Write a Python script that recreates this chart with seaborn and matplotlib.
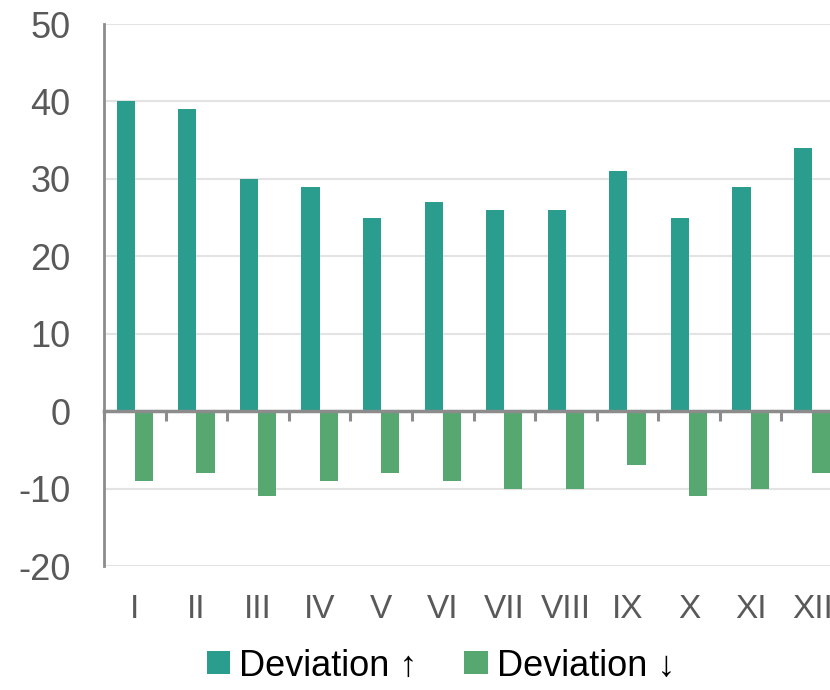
import matplotlib
matplotlib.use("Agg")
import matplotlib.pyplot as plt
import seaborn as sns
import pandas as pd

# Monthly deviations (upward and downward)
months = ["I", "II", "III", "IV", "V", "VI", "VII", "VIII", "IX", "X", "XI", "XII"]
dev_up = [40, 39, 30, 29, 25, 27, 26, 26, 31, 25, 29, 34]
dev_down = [-9, -8, -11, -9, -8, -9, -10, -10, -7, -11, -10, -8]
series_names = ["Deviation \u2191", "Deviation \u2193"]
y_ticks = [-20, -10, 0, 10, 20, 30, 40, 50]

df = pd.DataFrame({
    "month": months * 2,
    "value": dev_up + dev_down,
    "series": [series_names[0]] * len(months) + [series_names[1]] * len(months),
})

sns.set_theme(style="white")
plt.rcParams["font.family"] = ["Liberation Sans", "DejaVu Sans"]
plt.rcParams["axes.unicode_minus"] = False

axis_grey = "#8C8C8C"
grid_grey = "#E3E3E3"
label_grey = "#595959"
palette = {series_names[0]: "#2A9D8E", series_names[1]: "#56A870"}

fig = plt.figure(figsize=(8.3, 6.9), dpi=100)
ax = fig.add_axes([104 / 830, 124 / 690, 739 / 830, 542 / 690])

sns.barplot(data=df, x="month", y="value", hue="series", order=months,
            hue_order=series_names, palette=palette, width=0.59, gap=0,
            saturation=1, linewidth=0, ax=ax, legend=True, zorder=2)

ymin, ymax = -20, 50
ax.set_ylim(ymin, ymax)
ax.set_xlim(-0.5, len(months) - 0.5)
ax.set_yticks(y_ticks)
ax.set_xlabel("")
ax.set_ylabel("")

# Horizontal gridlines
ax.yaxis.grid(True, color=grid_grey, linewidth=1.5, zorder=0)
ax.set_axisbelow(True)

# Spines
for side in ["top", "right", "bottom"]:
    ax.spines[side].set_visible(False)
ax.spines["left"].set_color(axis_grey)
ax.spines["left"].set_linewidth(2)

ax.tick_params(axis="y", direction="out", length=8, width=2, color=axis_grey,
               labelsize=26, labelcolor=label_grey, pad=16)
ax.tick_params(axis="x", length=0, labelsize=24, labelcolor=label_grey, pad=20)

# Category axis line at zero with boundary ticks
zero_axis = ax.secondary_xaxis((0 - ymin) / (ymax - ymin))
zero_axis.set_xticks([i - 0.5 for i in range(len(months) + 1)])
zero_axis.tick_params(axis="x", direction="out", length=7, width=2.2,
                      color=axis_grey, labelbottom=False, labeltop=False)
zero_axis.spines["bottom"].set_color(axis_grey)
zero_axis.spines["bottom"].set_linewidth(2.5)
zero_axis.set_zorder(5)

# Legend below the plot
handles, labels = ax.get_legend_handles_labels()
ax.get_legend().remove()
fig.legend(handles, labels, loc="center", bbox_to_anchor=(441 / 830, 1 - 666 / 690),
           ncol=2, frameon=False, fontsize=26, labelcolor="black",
           handlelength=0.65, handleheight=0.6,
           handletextpad=0.25, columnspacing=1.3, borderaxespad=0)

fig.savefig("out.png", dpi=100)
